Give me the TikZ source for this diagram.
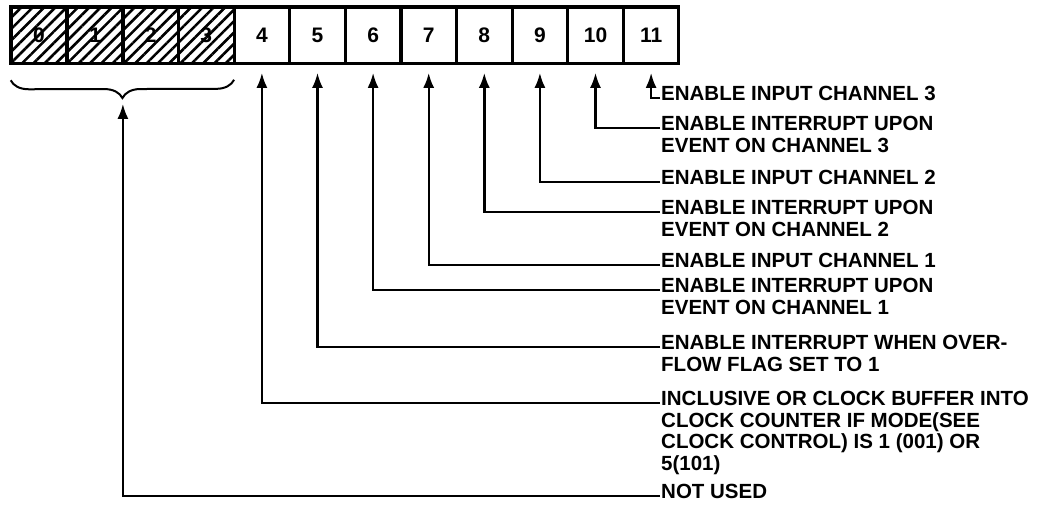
\documentclass[tikz,border=0pt]{standalone}
\usepackage{fontspec}
\setmainfont{Liberation Sans}
\usetikzlibrary{arrows.meta,positioning,calc,patterns.meta,decorations.pathreplacing}
% multi-line description, baseline on its first line
\newcommand{\desc}[1]{\begin{tabular}[t]{@{}l@{}}#1\end{tabular}}

\begin{document}
\begin{tikzpicture}[x=1pt,y=-1pt,
  cell/.style={draw, line width=1.6pt, minimum width=54pt, minimum height=55pt, inner sep=0pt, font=\fontsize{21}{21}\selectfont\bfseries},
  unused/.style={cell, pattern={Lines[angle=45,distance=8pt,line width=2.6pt]}},
  lbl/.style={anchor=mid west, inner sep=1pt, font=\fontsize{20.5}{21.5}\selectfont\bfseries},
  ptr/.style={line width=2.4pt, -{Latex[length=15pt,width=11pt]}, shorten >=9pt},
  brc/.style={decorate, decoration={brace, mirror, amplitude=18pt}, line width=2pt}
  ]
  \useasboundingbox (0,0) rectangle (1037,504);

  % Register: bits 0..3 hatched (not used), bits 4..11 open
  \node[unused] (b0) at (39,35.5) {0};
  \foreach \i [evaluate=\i as \j using int(\i-1)] in {1,2,3}
    \node[unused, right=0pt of b\j] (b\i) {\i};
  \foreach \i [evaluate=\i as \j using int(\i-1)] in {4,...,11}
    \node[cell, right=0pt of b\j] (b\i) {\i};
  \draw[line width=3pt] (b0.north west) rectangle (b11.south east);

  % Brace under the unused bits
  \draw[brc] ($(b0.south west)+(0,16)$) -- ($(b3.south east)+(0,16)$);
  \coordinate (brtip) at ($(b1.south east)+(0,34)$);

  % Bit descriptions
  \node[lbl] (l11) at (660,98) {ENABLE INPUT CHANNEL 3};
  \node[lbl] (l10) at (660,128) {\desc{ENABLE INTERRUPT UPON\\EVENT ON CHANNEL 3}};
  \node[lbl] (l9) at (660,182) {ENABLE INPUT CHANNEL 2};
  \node[lbl] (l8) at (660,212) {\desc{ENABLE INTERRUPT UPON\\EVENT ON CHANNEL 2}};
  \node[lbl] (l7) at (660,265) {ENABLE INPUT CHANNEL 1};
  \node[lbl] (l6) at (660,290) {\desc{ENABLE INTERRUPT UPON\\EVENT ON CHANNEL 1}};
  \node[lbl] (l5) at (660,347) {\desc{ENABLE INTERRUPT WHEN OVER-\\FLOW FLAG SET TO 1}};
  \node[lbl] (l4) at (660,403) {\desc{INCLUSIVE OR CLOCK BUFFER INTO\\CLOCK COUNTER IF MODE(SEE\\CLOCK CONTROL) IS 1 (001) OR\\5(101)}};
  \node[lbl] (l0) at (660,496) {NOT USED};

  % Pointers from descriptions up to the bits
  \foreach \i in {4,...,11}
    \draw[ptr] (l\i.mid west) -| (b\i.south);
  \draw[ptr, shorten >=6pt] (l0.mid west) -| (brtip);
\end{tikzpicture}
\end{document}
